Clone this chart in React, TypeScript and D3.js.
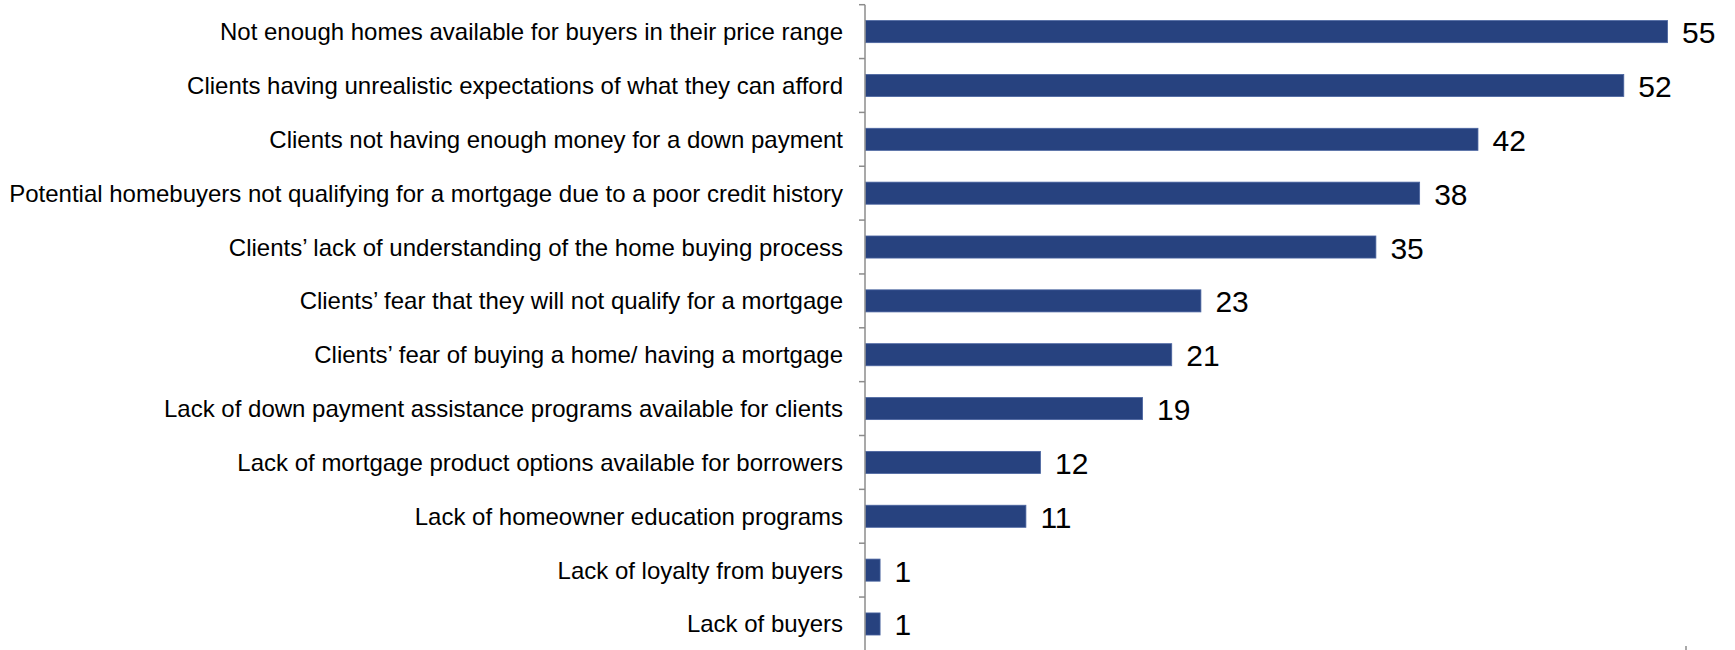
import React from "react";
import * as d3 from "d3";

const categories: string[] = [
  "Not enough homes available for buyers in their price range",
  "Clients having unrealistic expectations of what they can afford",
  "Clients not having enough money for a down payment",
  "Potential homebuyers not qualifying for a mortgage due to a poor credit history",
  "Clients\u2019 lack of understanding of the home buying process",
  "Clients\u2019 fear that they will not qualify for a mortgage",
  "Clients\u2019 fear of buying a home/ having a mortgage",
  "Lack of down payment assistance programs available for clients",
  "Lack of mortgage product options available for borrowers",
  "Lack of homeowner education programs",
  "Lack of loyalty from buyers",
  "Lack of buyers",
];
const values: number[] = [55, 52, 42, 38, 35, 23, 21, 19, 12, 11, 1, 1];
const xDomainMax = 56.3;

const W = 1735;
const H = 650;
const axisX = 865;
const xRight = 1686;
const yTop = 4.7;
const yBottom = 650.9;

export default function App() {
  const x = d3.scaleLinear().domain([0, xDomainMax]).range([axisX, xRight]);
  const y = d3
    .scaleBand<string>()
    .domain(categories)
    .range([yTop, yBottom])
    .paddingInner(0.59)
    .paddingOuter(0.295);
  const step = y.step();
  const tickYs = d3.range(categories.length + 1).map((i) => yTop + i * step);
  const fontFamily = "Liberation Sans, Arial, sans-serif";

  return (
    <svg
      width={W}
      height={H}
      style={{ position: "absolute", left: 0, top: 0, background: "#fff" }}
    >
      {categories.map((c, i) => {
        const by = y(c)!;
        const bh = y.bandwidth();
        return (
          <g key={c}>
            <rect
              x={x(0) + 0.5}
              y={by}
              width={x(values[i]) - x(0)}
              height={bh}
              fill="#27427F"
              stroke="#4A64A0"
              strokeWidth={0.8}
            />
            <text
              x={axisX - 22}
              y={by + bh / 2}
              textAnchor="end"
              dominantBaseline="central"
              fontFamily={fontFamily}
              fontSize={24}
              fill="#000"
            >
              {c}
            </text>
            <text
              x={x(values[i]) + 15}
              y={by + bh / 2 + 1}
              textAnchor="start"
              dominantBaseline="central"
              fontFamily={fontFamily}
              fontSize={30}
              fill="#000"
            >
              {values[i]}
            </text>
          </g>
        );
      })}
      <line x1={axisX} x2={axisX} y1={yTop} y2={H} stroke="#8C8C8C" strokeWidth={1.5} />
      {tickYs.map((ty, i) => (
        <line key={i} x1={axisX - 6} x2={axisX} y1={ty} y2={ty} stroke="#8C8C8C" strokeWidth={1.5} />
      ))}
      <line x1={x(xDomainMax)} x2={x(xDomainMax)} y1={H - 4} y2={H} stroke="#8C8C8C" strokeWidth={1.5} />
    </svg>
  );
}
